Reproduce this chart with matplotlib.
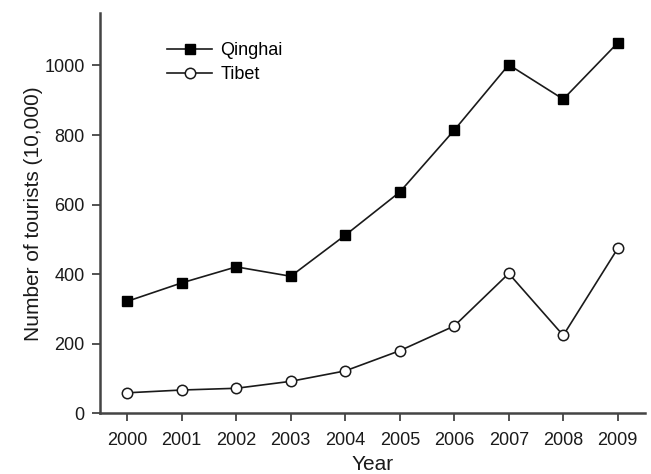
import matplotlib
matplotlib.use("Agg")
import matplotlib.pyplot as plt

plt.rcParams['font.family'] = ['Liberation Sans', 'DejaVu Sans']

# tourist arrivals, in units of 10,000
years = [2000, 2001, 2002, 2003, 2004, 2005, 2006, 2007, 2008, 2009]
qinghai = [322, 375, 421, 394, 512, 636, 814, 1002, 903, 1065]
tibet = [59, 67, 72, 92, 122, 180, 251, 402, 224, 474]

fig = plt.figure(figsize=(6.51, 4.74), dpi=100)
ax = fig.add_axes([0.1536, 0.128, 0.8372, 0.844])

ax.plot(years, qinghai, color='#1a1a1a', linewidth=1.2, marker='s', markersize=6.8,
        markerfacecolor='black', markeredgecolor='black', label='Qinghai')
ax.plot(years, tibet, color='#1a1a1a', linewidth=1.2, marker='o', markersize=7.5,
        markerfacecolor='white', markeredgecolor='#1a1a1a', markeredgewidth=1.1,
        label='Tibet')

ax.set_xlim(1999.5, 2009.5)
ax.set_ylim(0, 1150)
ax.set_xticks(years)
ax.set_yticks([0, 200, 400, 600, 800, 1000])

for s in ['top', 'right']:
    ax.spines[s].set_visible(False)
for s in ['left', 'bottom']:
    ax.spines[s].set_color('#444444')
    ax.spines[s].set_linewidth(1.8)

ax.tick_params(direction='out', length=5.5, width=1.3, color='#444444',
               labelsize=13, labelcolor='#1a1a1a')
ax.tick_params(axis='x', pad=8)
ax.tick_params(axis='y', pad=5.5)

ax.set_xlabel('Year', fontsize=15, color='#1a1a1a', labelpad=4)
ax.set_ylabel('Number of tourists (10,000)', fontsize=15, color='#1a1a1a', labelpad=1)

ax.legend(loc='upper left', bbox_to_anchor=(167 / 651, 1 - 42 / 474),
          bbox_transform=fig.transFigure, frameon=False, fontsize=13,
          handlelength=2.5, handletextpad=0.46, labelspacing=0.38,
          borderpad=0, borderaxespad=0)

fig.savefig('out.png', dpi=100)
